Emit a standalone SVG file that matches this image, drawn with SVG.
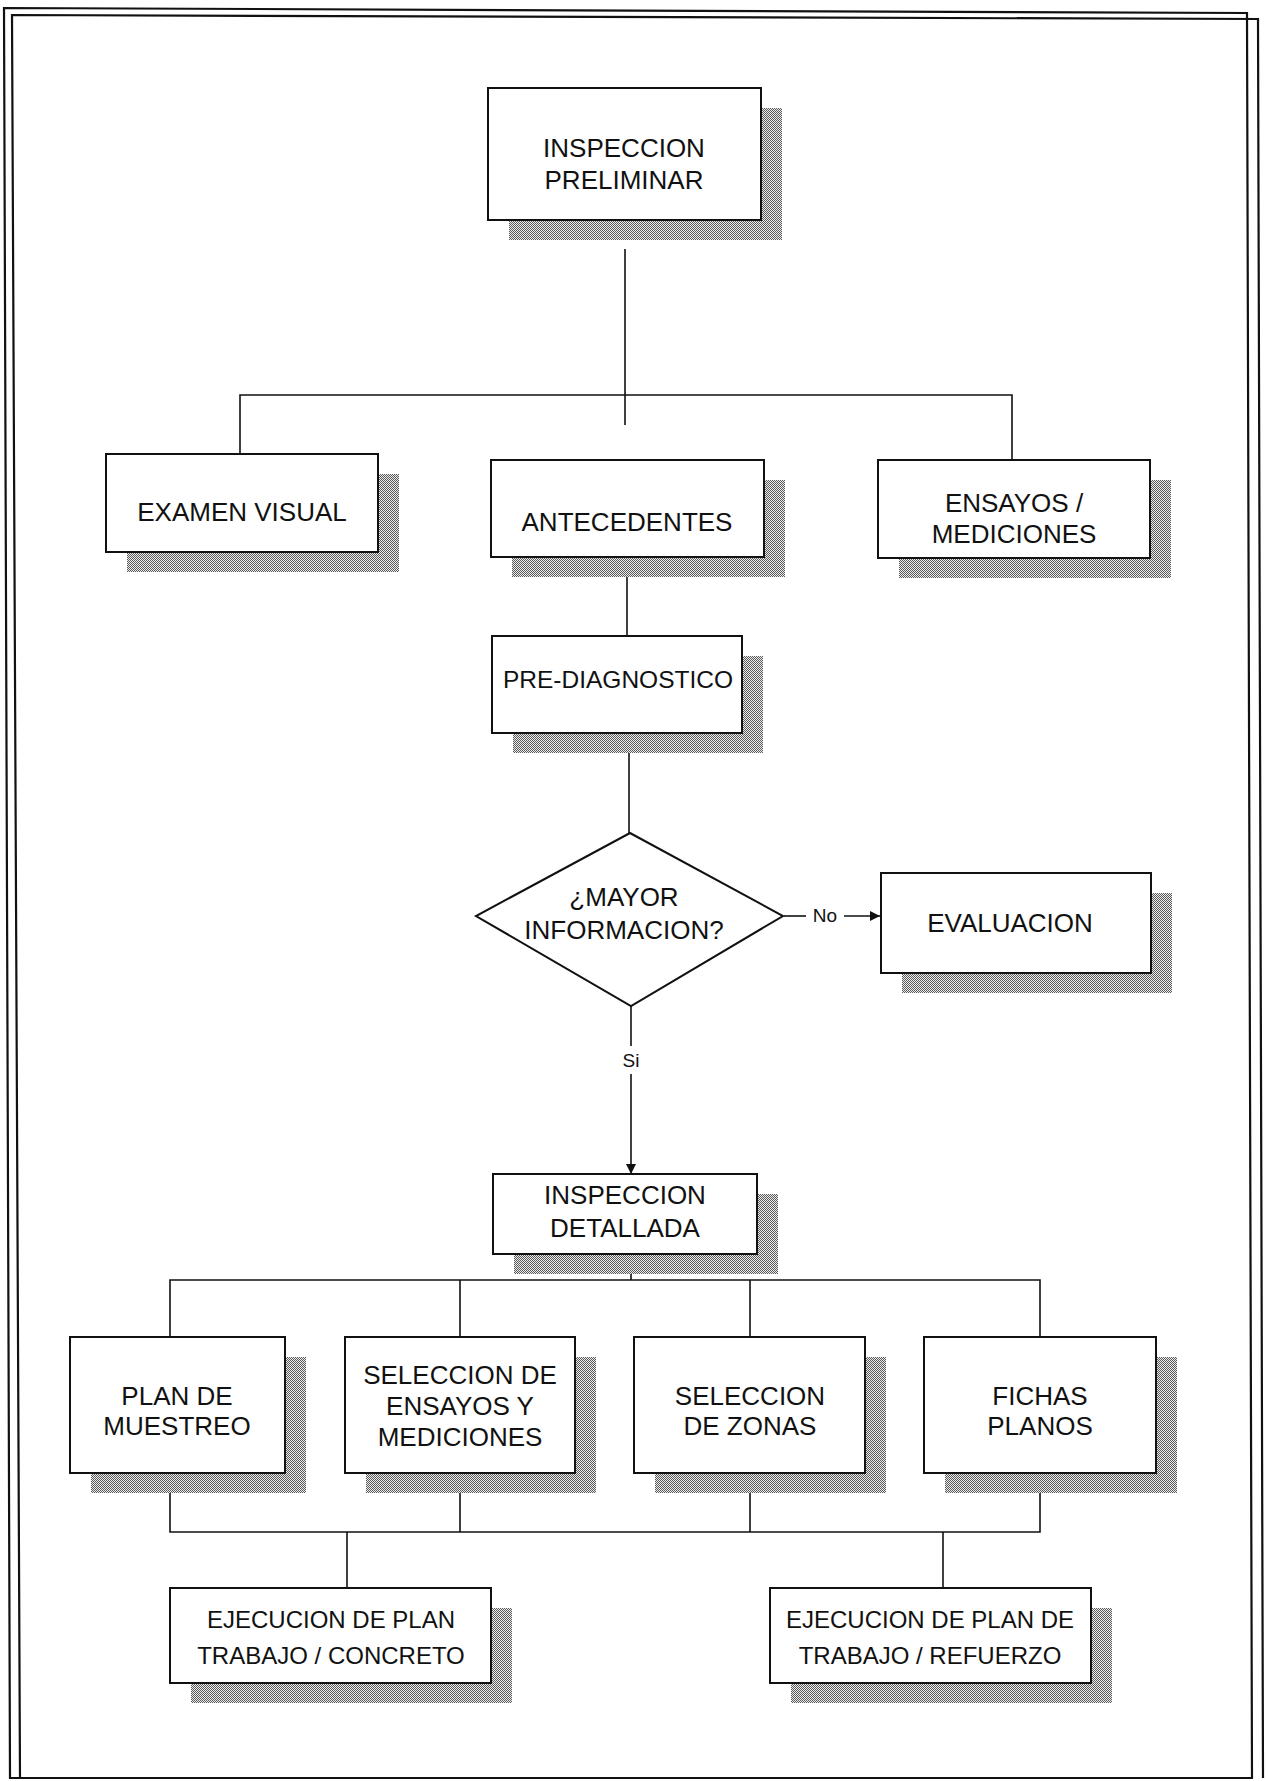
<svg xmlns="http://www.w3.org/2000/svg" width="1268" height="1781" viewBox="0 0 1268 1781">
<defs>
<pattern id="dots" width="2" height="2" patternUnits="userSpaceOnUse">
<rect width="2" height="2" fill="#ececec"/>
<rect x="0" y="0" width="1" height="1" fill="#5a5a5a"/>
<rect x="1" y="1" width="1" height="1" fill="#5a5a5a"/>
</pattern>
<marker id="arr" viewBox="0 0 10 10" refX="10" refY="5" markerWidth="10" markerHeight="10" markerUnits="userSpaceOnUse" orient="auto">
<path d="M0,0 L10,5 L0,10 Z" fill="#111"/>
</marker>
</defs>
<style>
.box{fill:#fff;stroke:#111;stroke-width:2}
.sh{fill:url(#dots)}
.t{font-family:"Liberation Sans",Arial,sans-serif;font-size:26px;fill:#111;text-anchor:middle}
.m{font-family:"Liberation Sans",Arial,sans-serif;font-size:24px;fill:#111;text-anchor:middle}
.s{font-family:"Liberation Sans",Arial,sans-serif;font-size:19px;fill:#111;text-anchor:middle}
.ln{stroke:#111;stroke-width:1.6;fill:none}
.frame{stroke:#111;stroke-width:2.2;fill:none}
</style>
<rect width="1268" height="1781" fill="#fff"/>
<g id="frame">
<path class="frame" d="M4,8 L1247,13 L1252,1778 L10,1778 Z"/>
<path class="frame" d="M20,1778 L12,15 L1258,19 L1263,1778"/>
</g>
<g id="connectors">
<line class="ln" x1="625" y1="249" x2="625" y2="425"/>
<polyline class="ln" points="240,454 240,395 1012,395 1012,460"/>
<line class="ln" x1="627" y1="557" x2="627" y2="636"/>
<line class="ln" x1="629" y1="733" x2="629" y2="833"/>
<line class="ln" x1="784" y1="916" x2="806" y2="916"/>
<line class="ln" x1="844" y1="916" x2="880" y2="916" marker-end="url(#arr)"/>
<line class="ln" x1="631" y1="1006" x2="631" y2="1046"/>
<line class="ln" x1="631" y1="1074" x2="631" y2="1174" marker-end="url(#arr)"/>
<line class="ln" x1="631" y1="1254" x2="631" y2="1280"/>
<polyline class="ln" points="170,1337 170,1280 1040,1280 1040,1337"/>
<line class="ln" x1="460" y1="1280" x2="460" y2="1337"/>
<line class="ln" x1="750" y1="1280" x2="750" y2="1337"/>
<polyline class="ln" points="170,1473 170,1532 1040,1532 1040,1473"/>
<line class="ln" x1="460" y1="1473" x2="460" y2="1532"/>
<line class="ln" x1="750" y1="1473" x2="750" y2="1532"/>
<line class="ln" x1="347" y1="1532" x2="347" y2="1588"/>
<line class="ln" x1="943" y1="1532" x2="943" y2="1588"/>
<text class="s" x="825" y="922">No</text>
<text class="s" x="631" y="1067">Si</text>
</g>
<g id="n1">
<rect class="sh" x="509" y="108" width="273" height="132"/>
<rect class="box" x="488" y="88" width="273" height="132"/>
<text class="t" x="624" y="157">INSPECCION</text>
<text class="t" x="624" y="189">PRELIMINAR</text>
</g>
<g id="n2">
<rect class="sh" x="127" y="474" width="272" height="98"/>
<rect class="box" x="106" y="454" width="272" height="98"/>
<text class="t" x="242" y="521">EXAMEN VISUAL</text>
</g>
<g id="n3">
<rect class="sh" x="512" y="480" width="273" height="97"/>
<rect class="box" x="491" y="460" width="273" height="97"/>
<text class="t" x="627" y="531">ANTECEDENTES</text>
</g>
<g id="n4">
<rect class="sh" x="899" y="480" width="272" height="98"/>
<rect class="box" x="878" y="460" width="272" height="98"/>
<text class="t" x="1014" y="512">ENSAYOS /</text>
<text class="t" x="1014" y="543">MEDICIONES</text>
</g>
<g id="n5">
<rect class="sh" x="513" y="656" width="250" height="97"/>
<rect class="box" x="492" y="636" width="250" height="97"/>
<text class="t" x="618" y="688" style="font-size:24.5px">PRE-DIAGNOSTICO</text>
</g>
<g id="n6">
<polygon class="box" points="630,833 783,916 631,1006 476,916"/>
<text class="t" x="624" y="906">¿MAYOR</text>
<text class="t" x="624" y="939">INFORMACION?</text>
</g>
<g id="n7">
<rect class="sh" x="902" y="893" width="270" height="100"/>
<rect class="box" x="881" y="873" width="270" height="100"/>
<text class="t" x="1010" y="932">EVALUACION</text>
</g>
<g id="n8">
<rect class="sh" x="514" y="1194" width="264" height="80"/>
<rect class="box" x="493" y="1174" width="264" height="80"/>
<text class="t" x="625" y="1204">INSPECCION</text>
<text class="t" x="625" y="1237">DETALLADA</text>
</g>
<g id="n9">
<rect class="sh" x="91" y="1357" width="215" height="136"/>
<rect class="box" x="70" y="1337" width="215" height="136"/>
<text class="t" x="177" y="1405">PLAN DE</text>
<text class="t" x="177" y="1435">MUESTREO</text>
</g>
<g id="n10">
<rect class="sh" x="366" y="1357" width="230" height="136"/>
<rect class="box" x="345" y="1337" width="230" height="136"/>
<text class="t" x="460" y="1384">SELECCION DE</text>
<text class="t" x="460" y="1415">ENSAYOS Y</text>
<text class="t" x="460" y="1446">MEDICIONES</text>
</g>
<g id="n11">
<rect class="sh" x="655" y="1357" width="231" height="136"/>
<rect class="box" x="634" y="1337" width="231" height="136"/>
<text class="t" x="750" y="1405">SELECCION</text>
<text class="t" x="750" y="1435">DE ZONAS</text>
</g>
<g id="n12">
<rect class="sh" x="945" y="1357" width="232" height="136"/>
<rect class="box" x="924" y="1337" width="232" height="136"/>
<text class="t" x="1040" y="1405">FICHAS</text>
<text class="t" x="1040" y="1435">PLANOS</text>
</g>
<g id="n13">
<rect class="sh" x="191" y="1608" width="321" height="95"/>
<rect class="box" x="170" y="1588" width="321" height="95"/>
<text class="m" x="331" y="1628">EJECUCION DE PLAN</text>
<text class="m" x="331" y="1664">TRABAJO / CONCRETO</text>
</g>
<g id="n14">
<rect class="sh" x="791" y="1608" width="321" height="95"/>
<rect class="box" x="770" y="1588" width="321" height="95"/>
<text class="m" x="930" y="1628">EJECUCION DE PLAN DE</text>
<text class="m" x="930" y="1664">TRABAJO / REFUERZO</text>
</g>
</svg>
